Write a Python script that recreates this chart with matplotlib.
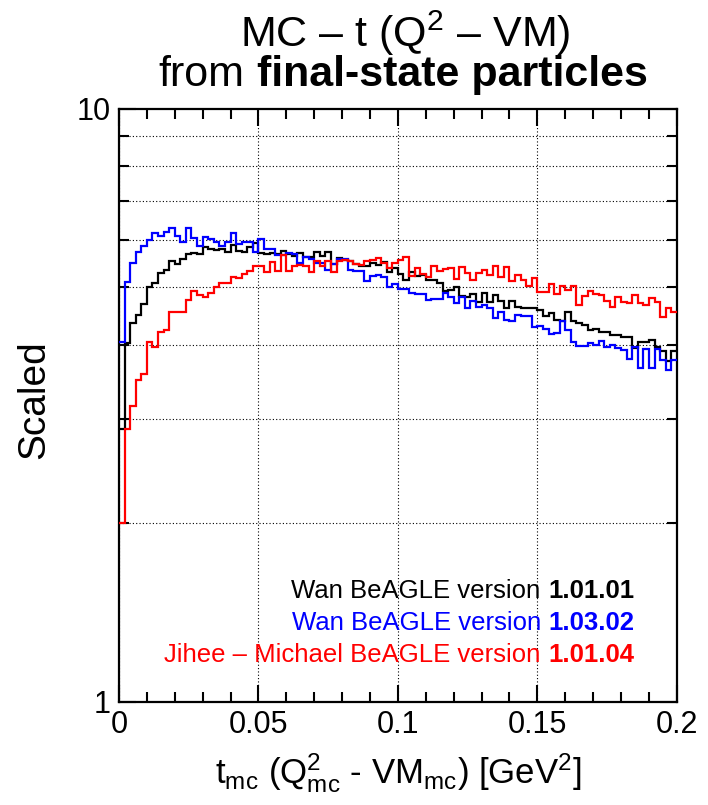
import numpy as np
import matplotlib
matplotlib.use('Agg')
import matplotlib.pyplot as plt
from matplotlib.ticker import FixedLocator, NullFormatter, MultipleLocator

plt.rcParams['font.family'] = ['Liberation Sans', 'DejaVu Sans']
plt.rcParams['mathtext.fontset'] = 'custom'
plt.rcParams['mathtext.rm'] = 'Liberation Sans'
plt.rcParams['mathtext.it'] = 'Liberation Sans:italic'
plt.rcParams['mathtext.bf'] = 'Liberation Sans:bold'

# 100 bins from 0 to 0.2 GeV^2
bin_edges = np.linspace(0, 0.2, 101)

# Wan BeAGLE 1.01.01 (black)
wan_10101 = [2.89, 4.02, 4.35, 4.49, 4.68, 5.01, 5.08, 5.28, 5.35, 5.53,
             5.47, 5.59, 5.69, 5.71, 5.70, 5.84, 5.80, 5.78, 5.80, 5.73,
             5.90, 5.76, 5.73, 5.84, 5.94, 5.71, 5.70, 5.72, 5.70, 5.75,
             5.70, 5.65, 5.71, 5.63, 5.63, 5.73, 5.65, 5.74, 5.48, 5.61,
             5.55, 5.53, 5.48, 5.44, 5.44, 5.50, 5.46, 5.51, 5.31, 5.38,
             5.26, 5.15, 5.31, 5.22, 5.25, 5.15, 5.15, 5.08, 4.93, 4.95,
             5.00, 4.84, 4.82, 4.88, 4.73, 4.89, 4.73, 4.86, 4.74, 4.62,
             4.74, 4.64, 4.61, 4.61, 4.61, 4.58, 4.48, 4.53, 4.41, 4.39,
             4.55, 4.39, 4.36, 4.32, 4.24, 4.25, 4.20, 4.20, 4.16, 4.15,
             4.12, 4.12, 3.95, 4.04, 4.05, 4.08, 3.97, 3.90, 3.75, 3.90]

# Wan BeAGLE 1.03.02 (blue)
wan_10302 = [4.04, 5.10, 5.50, 5.73, 5.87, 6.00, 6.17, 6.09, 6.19, 6.29,
             6.11, 5.97, 6.29, 6.06, 5.87, 6.08, 6.03, 5.97, 5.86, 5.97,
             6.17, 5.92, 5.96, 5.96, 5.74, 6.03, 5.81, 5.80, 5.67, 5.67,
             5.71, 5.70, 5.50, 5.63, 5.58, 5.49, 5.49, 5.35, 5.47, 5.58,
             5.58, 5.35, 5.33, 5.33, 5.13, 5.23, 5.25, 5.20, 5.01, 5.07,
             4.96, 4.97, 4.89, 4.87, 4.87, 4.76, 4.78, 4.78, 4.89, 4.81,
             4.71, 4.81, 4.62, 4.74, 4.63, 4.67, 4.62, 4.43, 4.55, 4.40,
             4.38, 4.49, 4.48, 4.48, 4.28, 4.31, 4.25, 4.17, 4.18, 4.39,
             4.24, 4.05, 3.98, 3.98, 4.03, 4.00, 4.06, 3.97, 3.99, 3.95,
             3.92, 3.79, 3.97, 3.65, 3.94, 3.66, 3.94, 3.77, 3.63, 3.77]

# Jihee - Michael BeAGLE 1.01.04 (red)
jm_10104 = [2.00, 2.89, 3.16, 3.49, 3.57, 4.05, 3.96, 4.20, 4.24, 4.54,
            4.55, 4.55, 4.76, 4.93, 4.86, 4.82, 4.89, 5.00, 5.09, 5.08,
            5.21, 5.19, 5.26, 5.33, 5.44, 5.44, 5.30, 5.51, 5.33, 5.67,
            5.33, 5.42, 5.46, 5.42, 5.31, 5.53, 5.43, 5.53, 5.30, 5.53,
            5.56, 5.53, 5.48, 5.46, 5.53, 5.56, 5.60, 5.49, 5.39, 5.49,
            5.55, 5.62, 5.23, 5.39, 5.27, 5.20, 5.43, 5.32, 5.37, 5.39,
            5.17, 5.41, 5.29, 5.15, 5.29, 5.35, 5.25, 5.43, 5.20, 5.41,
            5.13, 5.25, 5.15, 5.03, 5.18, 4.91, 4.90, 5.07, 4.87, 5.02,
            4.95, 5.03, 4.66, 4.84, 4.93, 4.87, 4.85, 4.74, 4.64, 4.82,
            4.72, 4.70, 4.86, 4.70, 4.67, 4.80, 4.72, 4.46, 4.61, 4.54]

series = [wan_10101, wan_10302, jm_10104]
names = ['Wan BeAGLE version', 'Wan BeAGLE version', 'Jihee \u2013 Michael BeAGLE version']
versions = ['1.01.01', '1.03.02', '1.01.04']
colors = ['black', '#0000ff', '#ff0000']

x_ticks = [0, 0.05, 0.1, 0.15, 0.2]
x_ticklabels = ['0', '0.05', '0.1', '0.15', '0.2']

fig = plt.figure(figsize=(7.08, 8.05), dpi=100)
ax = fig.add_axes([0.168, 0.128, 0.788, 0.737])

for vals, c in zip(series, colors):
    ax.stairs(vals, bin_edges, color=c, lw=1.6, baseline=None, zorder=3)

ax.set_yscale('log')
ax.set_xlim(0, 0.2)
ax.set_ylim(1, 10)

ax.xaxis.set_major_locator(FixedLocator(x_ticks))
ax.set_xticklabels(x_ticklabels)
ax.xaxis.set_minor_locator(MultipleLocator(0.01))
ax.yaxis.set_major_locator(FixedLocator([1, 10]))
ax.set_yticklabels(['1', '10'])
ax.yaxis.set_minor_locator(FixedLocator([2, 3, 4, 5, 6, 7, 8, 9]))
ax.yaxis.set_minor_formatter(NullFormatter())

ax.tick_params(which='both', direction='in', top=True, right=True, width=1.5,
               labelsize=22, pad=6)
ax.tick_params(which='major', length=12)
ax.tick_params(which='minor', length=7)
for s in ax.spines.values():
    s.set_linewidth(1.6)

ax.xaxis.grid(True, which='major', ls=(0, (1, 2)), color='black', lw=0.8)
ax.yaxis.grid(True, which='minor', ls=(0, (1, 2)), color='black', lw=0.8)

ax.set_xlabel(r't$_{\mathrm{mc}}$ (Q$^{2}_{\mathrm{mc}}$ - VM$_{\mathrm{mc}}$) [GeV$^{2}$]',
              fontsize=25, labelpad=8)
ax.set_ylabel('Scaled', fontsize=28, labelpad=14)
ax.yaxis.set_label_coords(-0.12, 0.51)

renderer = fig.canvas.get_renderer()
W, H = fig.bbox.width, fig.bbox.height

# title line 1
fig.text(405 / W, 1 - 33 / H, 'MC \u2013 t (Q$^{2}$ \u2013 VM)',
         fontsize=31, ha='center', va='center')

# title line 2: regular + bold, centred together
fs_t = 31
t1 = fig.text(0, 1 - 75 / H, 'from', fontsize=fs_t, va='center')
t2 = fig.text(0, 1 - 75 / H, 'final-state particles', fontsize=fs_t, fontweight='bold', va='center')
gap_t = 0.278 * fs_t * 100 / 72
w1 = t1.get_window_extent(renderer).width + gap_t
w2 = t2.get_window_extent(renderer).width
x0 = 403 - (w1 + w2) / 2
t1.set_x(x0 / W)
t2.set_x((x0 + w1) / W)

# legend lines: regular name + bold version, right aligned
y_leg = [591, 623, 655]
fs = 18.5
for name, ver, c, yp in zip(names, versions, colors, y_leg):
    tb = fig.text(634 / W, 1 - yp / H, ver, fontsize=fs, fontweight='bold', color=c,
                  ha='right', va='center')
    wb = tb.get_window_extent(renderer).width
    gap = 0.278 * fs * 100 / 72
    fig.text((634 - wb - gap) / W, 1 - yp / H, name, fontsize=fs, color=c,
             ha='right', va='center')

fig.savefig('out.png', dpi=100)
